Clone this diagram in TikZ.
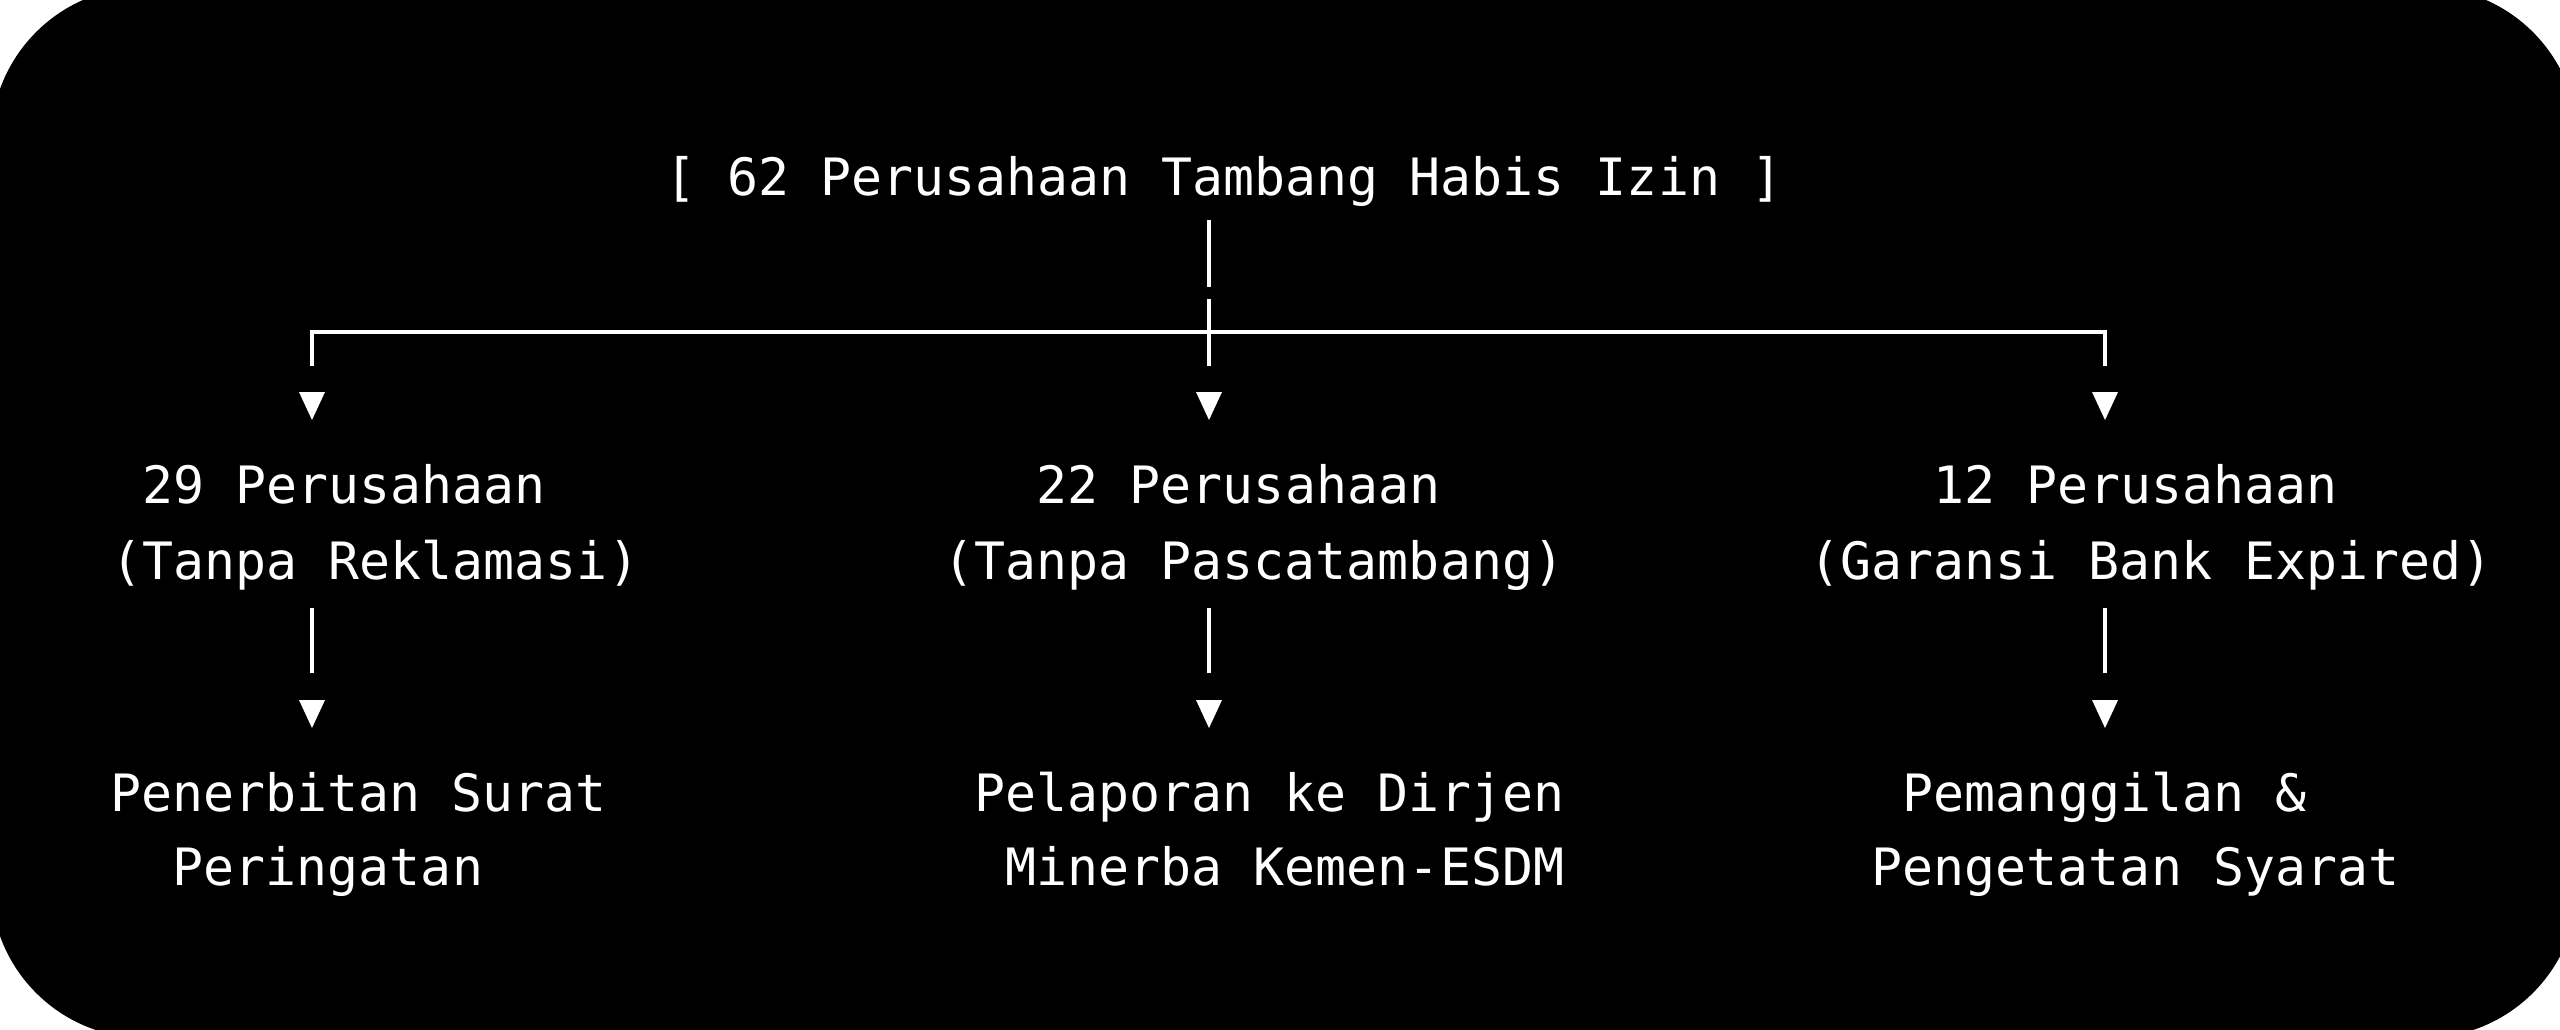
\documentclass[tikz,border=0pt]{standalone}
\usepackage{fontspec}
\newfontfamily\asciifont{DejaVu Sans Mono}
\begin{document}
\begin{tikzpicture}[x=0.25pt,y=-0.25pt,
  txt/.style={text=white,font=\asciifont\fontsize{12.875}{15}\selectfont,inner sep=0pt,anchor=base},
  wire/.style={draw=white,line width=1.1pt},
  downtip/.pic={\fill[white] (-13,0) -- (13,0) -- (0,28) -- cycle;}]
\useasboundingbox (0,0) rectangle (2560,1029);
\fill[white] (0,0) rectangle (2560,1029);
\fill[black,rounded corners=38.5pt] (-9,-13) rectangle (2578,1038);

% texts
\node[txt] (title) at (1224,195) {[ 62 Perusahaan Tambang Habis Izin ]};

\node[txt] (c1a) at (344,503) {29 Perusahaan};
\node[txt] (c1b) at (375.5,579) {(Tanpa Reklamasi)};
\node[txt] (c2a) at (1238.5,503) {22 Perusahaan};
\node[txt] (c2b) at (1254,579) {(Tanpa Pascatambang)};
\node[txt] (c3a) at (2135.5,503) {12 Perusahaan};
\node[txt] (c3b) at (2151,579) {(Garansi Bank Expired)};

\node[txt] (r1a) at (359,811) {Penerbitan Surat};
\node[txt] (r1b) at (328,885) {Peringatan};
\node[txt] (r2a) at (1269.5,811) {Pelaporan ke Dirjen};
\node[txt] (r2b) at (1285,885) {Minerba Kemen-ESDM};
\node[txt] (r3a) at (2104.5,811) {Pemanggilan \&};
\node[txt] (r3b) at (2135.5,885) {Pengetatan Syarat};

% connector points
\coordinate (t0) at (1209,220);
\coordinate (t1) at (1209,287);
\coordinate (t2) at (1209,299);
\coordinate (t3) at (1209,366);
\coordinate (hl) at (312,332);
\coordinate (hr) at (2105,332);
\coordinate (l3) at (312,366);
\coordinate (r3) at (2105,366);

\draw[wire] (t0) -- (t1);
\draw[wire] (t2) -- (t3);
\draw[wire] (l3) -- (hl) -- (hr) -- (r3);

\pic (a1) at (312,392) {downtip};
\pic (a2) at (1209,392) {downtip};
\pic (a3) at (2105,392) {downtip};

% second level
\coordinate (v1s) at (312,608);  \coordinate (v1e) at (312,673);
\coordinate (v2s) at (1209,608); \coordinate (v2e) at (1209,673);
\coordinate (v3s) at (2105,608); \coordinate (v3e) at (2105,673);
\draw[wire] (v1s) -- (v1e);
\draw[wire] (v2s) -- (v2e);
\draw[wire] (v3s) -- (v3e);

\pic (b1) at (312,700) {downtip};
\pic (b2) at (1209,700) {downtip};
\pic (b3) at (2105,700) {downtip};
\end{tikzpicture}
\end{document}
